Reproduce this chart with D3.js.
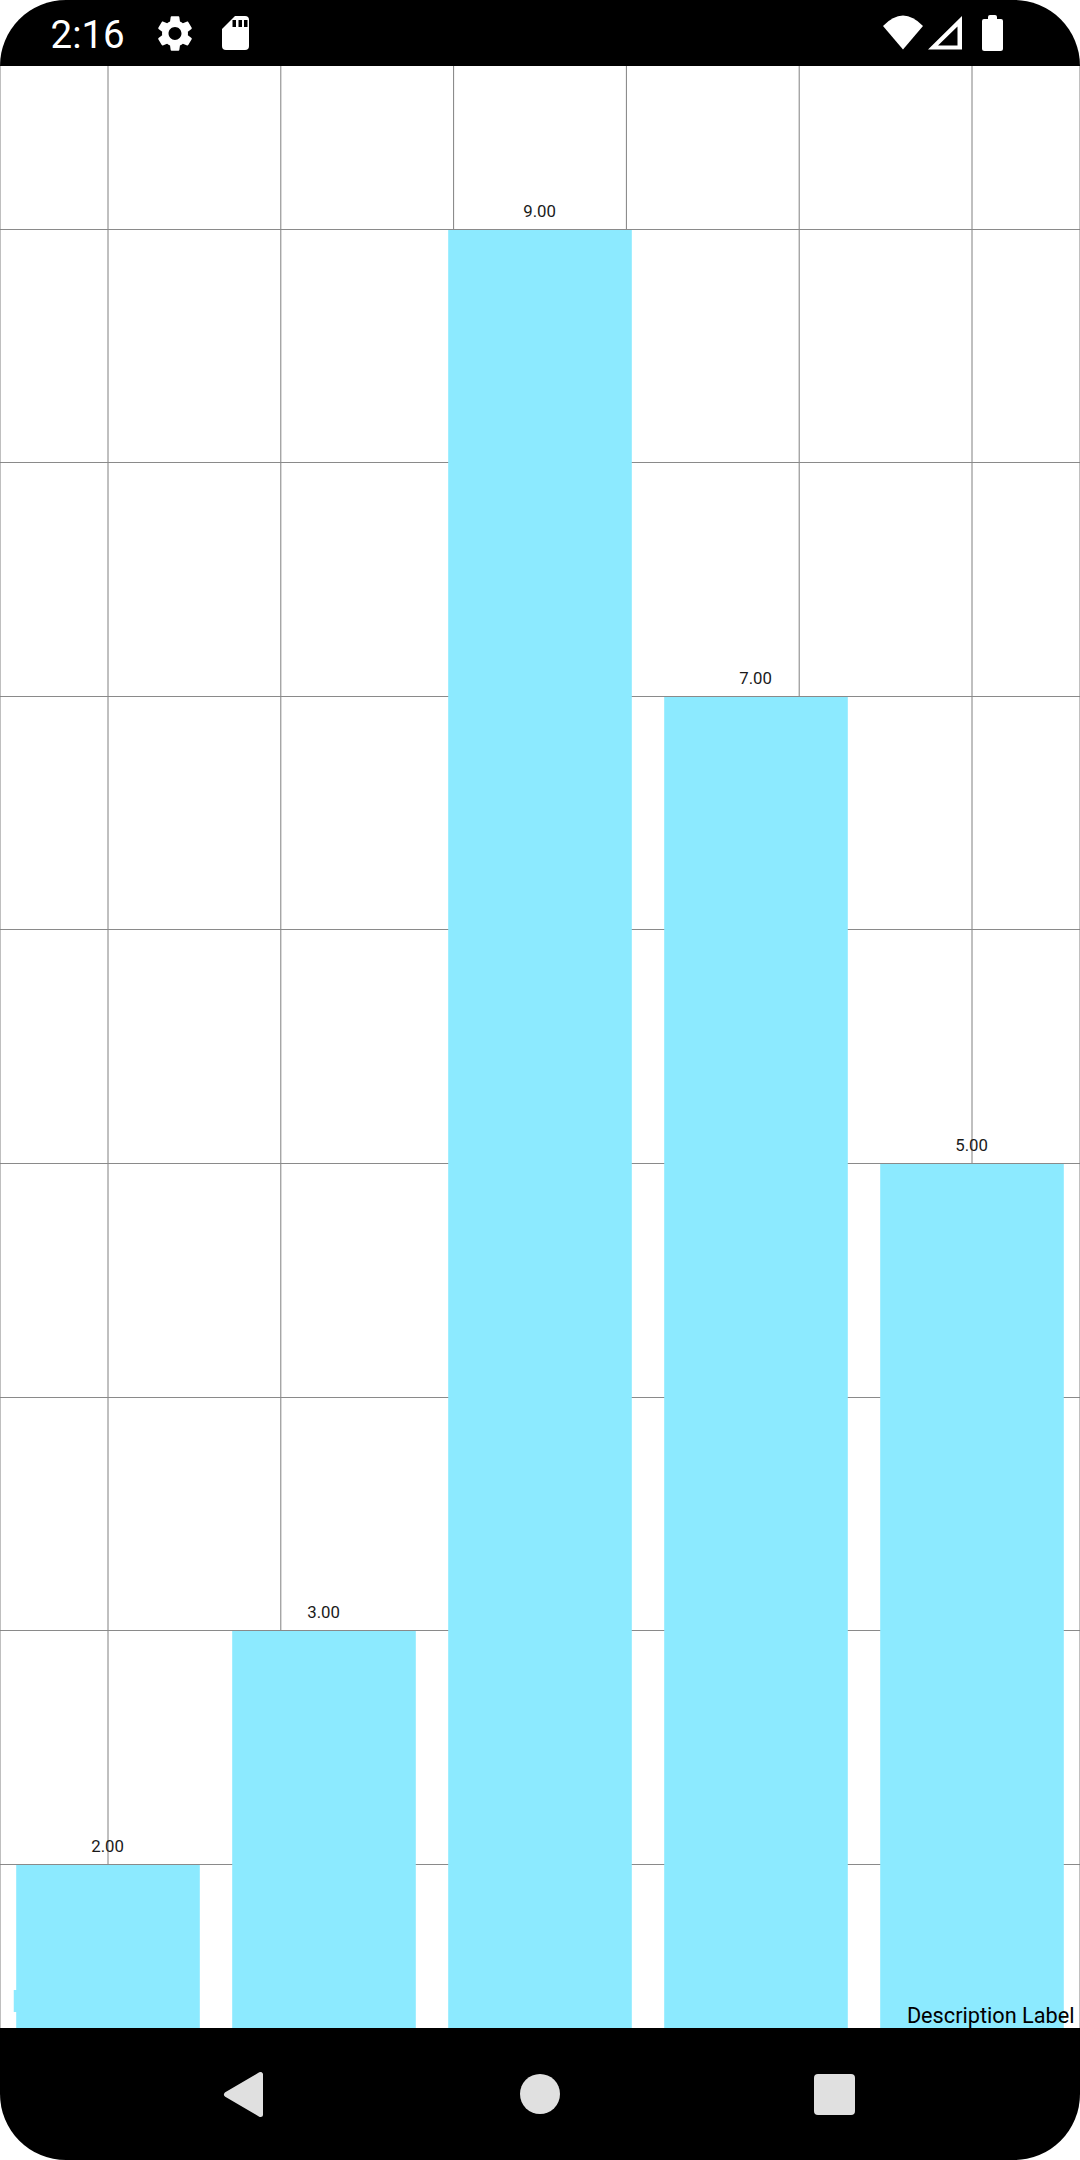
<!DOCTYPE html>
<html>
<head>
<meta charset="utf-8">
<style>
html,body{margin:0;padding:0;background:#fff;}
svg{display:block;}
text{font-family:Roboto,sans-serif;}
</style>
<script src="https://cdn.jsdelivr.net/npm/d3@7"></script>
</head>
<body>
<svg id="chart" width="1080" height="2160" viewBox="0 0 1080 2160"></svg>
<script>
const categories = [1, 2, 3, 4, 5];
const values = [2, 3, 9, 7, 5];
const xTickValues = [1, 1.8, 2.6, 3.4, 4.2, 5];
const yTickValues = [0, 1, 2, 3, 4, 5, 6, 7, 8, 9, 10];
const barWidthUnits = 0.85;
const description = "Description Label";
const clockText = "2:16";

const W = 1080, H = 2160, plotTop = 66, plotBottom = 2028;
const svg = d3.select("#chart");

const x = d3.scaleLinear().domain([0.5, 5.5]).range([0, W]);
const y = d3.scaleLinear().domain([0, 10]).range([2331.4, -4.3]);

svg.append("defs").append("clipPath").attr("id", "plot")
  .append("rect").attr("x", 0).attr("y", plotTop).attr("width", W).attr("height", plotBottom - plotTop);

const plot = svg.append("g").attr("clip-path", "url(#plot)");

// grid: vertical
const gx = plot.append("g").attr("transform", `translate(0,${plotBottom})`)
  .call(d3.axisBottom(x).tickValues(xTickValues).tickSize(-(plotBottom - plotTop)).tickFormat(""));
gx.select(".domain").remove();
gx.selectAll("line").attr("stroke", "#808080").attr("stroke-width", 1);
gx.selectAll(".tick").attr("transform", d => `translate(${x(d)},0)`);

// grid: horizontal
const gy = plot.append("g")
  .call(d3.axisRight(y).tickValues(yTickValues).tickSize(W).tickFormat(""));
gy.select(".domain").remove();
gy.selectAll("line").attr("stroke", "#8a8a8a").attr("stroke-width", 1);
gy.selectAll(".tick").attr("transform", d => `translate(0,${Math.floor(y(d)) + 0.5})`);

// chart edge lines
plot.selectAll("line.edge").data(x.domain()).join("line").attr("class", "edge")
  .attr("x1", d => x(d)).attr("x2", d => x(d))
  .attr("y1", plotTop).attr("y2", plotBottom)
  .attr("stroke", "#808080").attr("stroke-width", 1);

// legend swatch, mostly hidden behind first bar
plot.append("rect").attr("x", 13.75).attr("y", 1990).attr("width", 22).attr("height", 22).attr("fill", "#8CEAFF");

// bars
plot.selectAll("rect.bar").data(values).join("rect").attr("class", "bar")
  .attr("x", (d, i) => x(categories[i] - barWidthUnits / 2))
  .attr("width", (d, i) => x(categories[i] + barWidthUnits / 2) - x(categories[i] - barWidthUnits / 2))
  .attr("y", d => Math.ceil(y(d)))
  .attr("height", d => y(0) - Math.ceil(y(d)))
  .attr("fill", "#8CEAFF");

// value labels
plot.selectAll("text.val").data(values).join("text").attr("class", "val")
  .attr("x", (d, i) => x(categories[i]) - 0.4)
  .attr("y", d => y(d) - 12.2)
  .attr("text-anchor", "middle")
  .attr("font-size", 16.8)
  .attr("fill", "#1a1a1a")
  .text(d => d3.format(".2f")(d));

// description
plot.append("text").attr("x", 1074.5).attr("y", 2022.7).attr("text-anchor", "end")
  .attr("font-size", 21.7).attr("fill", "#000").text(description);

// status bar
svg.append("path").attr("fill", "#000")
  .attr("d", "M0,66A66,66 0 0 1 66,0H1014A66,66 0 0 1 1080,66Z");
svg.append("text").attr("x", 50.5).attr("y", 48).attr("font-size", 38.5).attr("fill", "#fff").text(clockText);

const gear = "M19.14 12.94c.04-.3.06-.61.06-.94 0-.32-.02-.64-.07-.94l2.03-1.58c.18-.14.23-.41.12-.61l-1.92-3.32c-.12-.22-.37-.29-.59-.22l-2.39.96c-.5-.38-1.03-.7-1.62-.94l-.36-2.54c-.04-.24-.24-.41-.48-.41h-3.84c-.24 0-.43.17-.47.41l-.36 2.54c-.59.24-1.13.57-1.62.94l-2.39-.96c-.22-.08-.47 0-.59.22L2.74 8.87c-.12.21-.08.47.12.61l2.03 1.58c-.05.3-.09.63-.09.94s.02.64.07.94l-2.03 1.58c-.18.14-.23.41-.12.61l1.92 3.32c.12.22.37.29.59.22l2.39-.96c.5.38 1.03.7 1.62.94l.36 2.54c.05.24.24.41.48.41h3.84c.24 0 .44-.17.47-.41l.36-2.54c.59-.24 1.13-.56 1.62-.94l2.39.96c.22.08.47 0 .59-.22l1.92-3.32c.12-.22.07-.47-.12-.61l-2.01-1.58zM12 15.6c-1.98 0-3.6-1.62-3.6-3.6s1.62-3.6 3.6-3.6 3.6 1.62 3.6 3.6-1.62 3.6-3.6 3.6z";
svg.append("path").attr("d", gear).attr("fill", "#fff").attr("fill-rule", "evenodd")
  .attr("transform", "translate(153.4,11.9) scale(1.8)");

// SD card
svg.append("path").attr("fill", "#fff")
  .attr("d", "M235,16H245Q249,16 249,20V46Q249,50 245,50H226Q222,50 222,46V29Z");
svg.selectAll("rect.slot").data([232.5, 238.5, 244]).join("rect").attr("class", "slot")
  .attr("x", d => d).attr("y", 20).attr("width", 3.5).attr("height", 7).attr("fill", "#000");

// wifi
svg.append("path").attr("fill", "#fff")
  .attr("d", "M883,26Q903,5 923,26L903,49.5Z");
// signal
svg.append("path").attr("fill", "#fff").attr("fill-rule", "evenodd")
  .attr("d", "M928,49.5L962,16V49.5ZM938,45.5L957.5,26.5V45.5Z");
// battery
svg.append("path").attr("fill", "#fff")
  .attr("d", "M988,19V17Q988,15 990,15H995Q997,15 997,17V19H1001Q1003,19 1003,21V48.5Q1003,51 1000.5,51H984.5Q982,51 982,48.5V21Q982,19 984,19Z");

// nav bar
svg.append("path").attr("fill", "#000")
  .attr("d", `M0,${plotBottom}H1080V2094A66,66 0 0 1 1014,2160H66A66,66 0 0 1 0,2094Z`);
svg.append("path").attr("fill", "#e0e0e0").attr("stroke", "#e0e0e0").attr("stroke-width", 5).attr("stroke-linejoin", "round")
  .attr("d", "M226.5,2094.5L260.5,2074.5V2114.5Z");
svg.append("circle").attr("cx", 540).attr("cy", 2094).attr("r", 20).attr("fill", "#e0e0e0");
svg.append("rect").attr("x", 814).attr("y", 2074).attr("width", 41).attr("height", 41).attr("rx", 4).attr("fill", "#e0e0e0");
</script>
</body>
</html>
